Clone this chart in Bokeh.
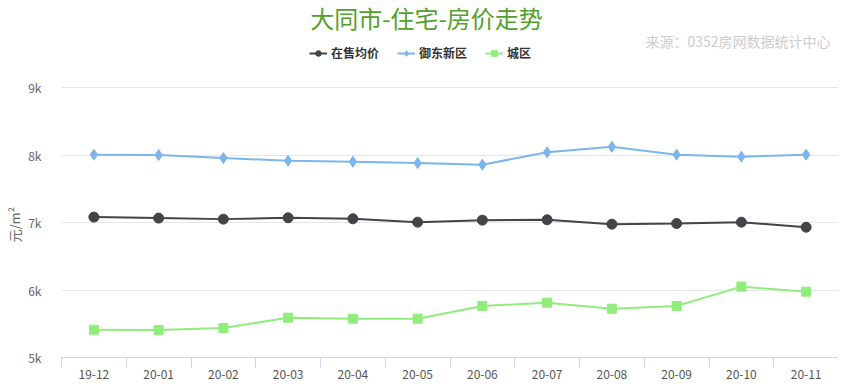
from bokeh.plotting import figure
from bokeh.models import (Range1d, FixedTicker, Label, Legend, LegendItem,
                          ColumnDataSource, Title)
from bokeh.embed import file_html
from bokeh.resources import INLINE

months = ["19-12", "20-01", "20-02", "20-03", "20-04", "20-05",
          "20-06", "20-07", "20-08", "20-09", "20-10", "20-11"]
avg_price = [7080, 7065, 7050, 7070, 7055, 7005, 7035, 7040, 6975, 6985, 7005, 6930]
yudong = [8005, 8000, 7955, 7915, 7900, 7880, 7857, 8040, 8123, 8005, 7975, 8005]
chengqu = [5412, 5407, 5437, 5590, 5575, 5575, 5763, 5812, 5723, 5763, 6050, 5975]
y_ticks = [5000, 6000, 7000, 8000, 9000]
y_tick_labels = ["5k", "6k", "7k", "8k", "9k"]

series_names = ["在售均价", "御东新区", "城区"]
colors = ["#434348", "#7cb5ec", "#90ed7d"]

FONT = "Noto Sans CJK SC"

FRAME_H = 350
# 270 px spans 5k..9k; extend the range above 9k so the header area sits inside the frame
y_top = 9000 + (FRAME_H - 270) / 270 * 4000

xs = [i + 0.5 for i in range(len(months))]
src = ColumnDataSource(dict(x=xs, a=avg_price, b=yudong, c=chengqu))

p = figure(frame_width=777, frame_height=FRAME_H, output_backend="svg",
           toolbar_location=None, x_range=Range1d(0, len(months)),
           y_range=Range1d(5000, y_top),
           min_border_left=0, min_border_right=0, min_border_top=7,
           min_border_bottom=5)
p.outline_line_color = None
p.background_fill_color = "white"
p.border_fill_color = "white"

# grid
p.xgrid.grid_line_color = None
p.ygrid.grid_line_color = "#e6e6e6"
p.ygrid.ticker = FixedTicker(ticks=y_ticks)

# x axis
xa = p.xaxis[0]
xa.ticker = FixedTicker(ticks=xs, minor_ticks=list(range(len(months) + 1)))
xa.major_label_overrides = {x: m for x, m in zip(xs, months)}
xa.axis_line_color = "#ccd6eb"
xa.major_tick_line_color = None
xa.major_tick_out = 0
xa.major_tick_in = 0
xa.minor_tick_line_color = "#ccd6eb"
xa.minor_tick_out = 10
xa.minor_tick_in = 0
xa.major_label_standoff = 2
xa.major_label_text_font = FONT
xa.major_label_text_font_size = "12px"
xa.major_label_text_color = "#555555"

# y axis
ya = p.yaxis[0]
ya.ticker = FixedTicker(ticks=y_ticks)
ya.major_label_overrides = {t: l for t, l in zip(y_ticks, y_tick_labels)}
ya.axis_line_color = None
ya.major_tick_line_color = None
ya.minor_tick_line_color = None
ya.major_label_standoff = 14
ya.major_label_text_font = FONT
ya.major_label_text_font_size = "12px"
ya.major_label_text_color = "#666666"

ylab = Title(text="元/m²", align="left", offset=115, standoff=4,
             text_font=FONT, text_font_size="13px", text_font_style="normal",
             text_color="#666666")
p.add_layout(ylab, "left")

# series
l1 = p.line("x", "a", source=src, line_color=colors[0], line_width=2)
s1 = p.scatter("x", "a", source=src, marker="circle", size=10,
               fill_color=colors[0], line_color=colors[0])
l2 = p.line("x", "b", source=src, line_color=colors[1], line_width=2)
s2 = p.scatter("x", "b", source=src, marker="diamond", size=11,
               fill_color=colors[1], line_color=colors[1])
l3 = p.line("x", "c", source=src, line_color=colors[2], line_width=2)
s3 = p.scatter("x", "c", source=src, marker="square", size=9,
               fill_color=colors[2], line_color=colors[2])

legend = Legend(items=[
    LegendItem(label=series_names[0], renderers=[l1, s1]),
    LegendItem(label=series_names[1], renderers=[l2, s2]),
    LegendItem(label=series_names[2], renderers=[l3, s3]),
], orientation="horizontal", location=(248, FRAME_H - 54), padding=0, margin=0,
    spacing=18, glyph_width=18, glyph_height=14, label_standoff=4,
    label_text_font=FONT, label_text_font_size="12px",
    label_text_font_style="bold", label_text_color="#333333",
    border_line_color=None, background_fill_alpha=0)
p.add_layout(legend)

title = Label(x=365, y=FRAME_H - 10, x_units="screen", y_units="screen",
              text="大同市-住宅-房价走势", text_align="center",
              text_baseline="middle", text_font=FONT,
              text_font_size="24px", text_color="#52a02e")
p.add_layout(title)

source_lbl = Label(x=769, y=FRAME_H - 33, x_units="screen", y_units="screen",
                   text="来源：0352房网数据统计中心", text_align="right",
                   text_baseline="middle", text_font=FONT,
                   text_font_size="14px", text_color="#cccccc")
p.add_layout(source_lbl)

open("out.html", "w").write(file_html(p, INLINE))
